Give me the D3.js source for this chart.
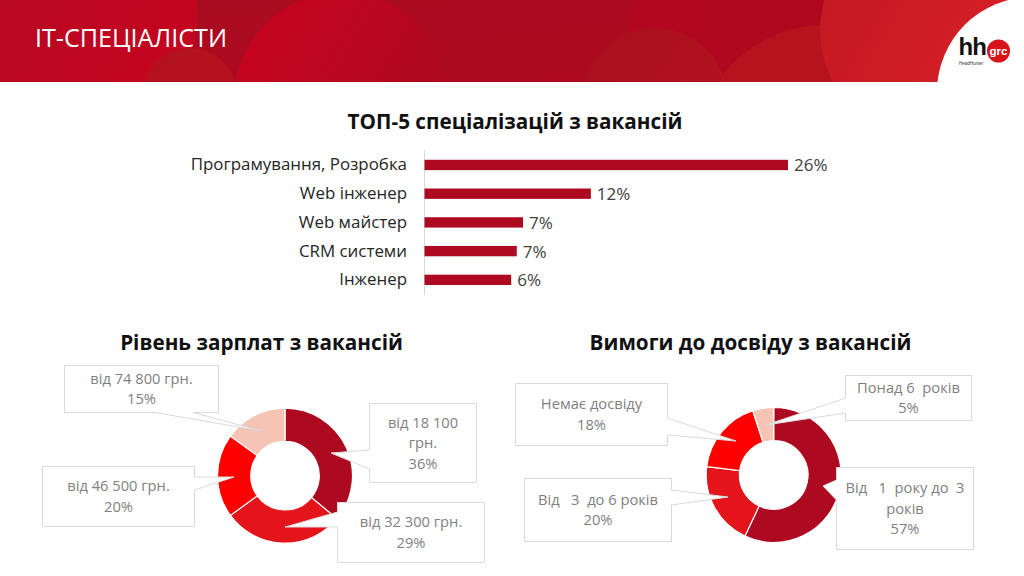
<!DOCTYPE html>
<html>
<head>
<meta charset="utf-8">
<script src="https://cdn.jsdelivr.net/npm/d3@7"></script>
<style>
html, body { margin: 0; padding: 0; background: #fff; }
svg { display: block; }
text { font-family: "Open Sans", "Noto Sans", sans-serif; white-space: pre; }
text.logo { font-family: "Liberation Sans", sans-serif; }
</style>
</head>
<body>
<svg id="chart" width="1024" height="576"></svg>
<script>
// chart values
var specCategories = ['Програмування, Розробка', 'Web інженер', 'Web майстер', 'CRM системи', 'Інженер'];
var specValues = [26, 11.9, 7.05, 6.6, 6.2];

var salaryLabels = [['від 18 100', 'грн.'], ['від 32 300 грн.'], ['від 46 500 грн.'], ['від 74 800 грн.']];
var salaryValues = [36, 29, 20, 15];

var expLabels = [['Від   1  року до  3', 'років'], ['Від   3  до 6 років'], ['Немає досвіду'], ['Понад 6  років']];
var expValues = [57, 20, 18, 5];

var sliceColors = ['#ad0a22', '#e3141a', '#ff0000', '#f5c4b5'];

var svg = d3.select('#chart');
var defs = svg.append('defs');

function addGradient(id, from, to) {
    var g = defs.append('linearGradient').attr('id', id)
        .attr('x1', 0).attr('y1', 0).attr('x2', 1).attr('y2', 0.6);
    g.append('stop').attr('offset', '0%').attr('stop-color', from);
    g.append('stop').attr('offset', '100%').attr('stop-color', to);
}

// header banner, built from overlapping circles
addGradient('bandBase', '#a80c20', '#ae0a20');
addGradient('bandLeft', '#b00a24', '#c5051f');
addGradient('bandMid', '#cb0320', '#aa0a1e');
addGradient('bandRight', '#b6061f', '#aa0a1e');
addGradient('bandSoft', '#a80f1e', '#b4131f');
addGradient('bandHot', '#bf1823', '#da2026');

defs.append('clipPath').attr('id', 'bandClip')
    .append('rect').attr('width', 1024).attr('height', 82);

var band = svg.append('g').attr('clip-path', 'url(#bandClip)');
band.append('rect').attr('width', 1024).attr('height', 82).attr('fill', 'url(#bandBase)');

var bandCircles = [
    { cx: 60, cy: 15, r: 137, fill: 'url(#bandLeft)' },
    { cx: 190, cy: 95, r: 47, fill: '#b5121f' },
    { cx: 342, cy: 100, r: 108, fill: 'url(#bandMid)' },
    { cx: 790, cy: 60, r: 165, fill: 'url(#bandRight)' },
    { cx: 655, cy: 100, r: 72, fill: 'url(#bandSoft)' },
    { cx: 825, cy: 155, r: 130, fill: '#b5141f' },
    { cx: 928, cy: 30, r: 108, fill: 'url(#bandHot)' },
    { cx: 1032, cy: 92, r: 95, fill: '#ffffff' }
];
band.selectAll('circle').data(bandCircles).enter().append('circle')
    .attr('cx', function (d) { return d.cx; })
    .attr('cy', function (d) { return d.cy; })
    .attr('r', function (d) { return d.r; })
    .attr('fill', function (d) { return d.fill; });

svg.append('text').attr('x', 35).attr('y', 46.5)
    .attr('font-size', 25).attr('font-weight', 400).attr('fill', '#fff')
    .attr('textLength', 192).attr('lengthAdjust', 'spacingAndGlyphs')
    .text('IT-СПЕЦІАЛІСТИ');

// logo
var logo = svg.append('g');
logo.append('circle').attr('cx', 998.5).attr('cy', 51).attr('r', 11.5).attr('fill', '#d7141c');
logo.append('text').attr('class', 'logo').attr('x', 958.5).attr('y', 55)
    .attr('font-size', 24).attr('font-weight', 700).attr('letter-spacing', -1).attr('fill', '#111')
    .text('hh');
logo.append('text').attr('class', 'logo').attr('x', 998.5).attr('y', 55).attr('text-anchor', 'middle')
    .attr('font-size', 11.5).attr('font-weight', 700).attr('fill', '#fff').text('grc');
logo.append('text').attr('class', 'logo').attr('x', 959).attr('y', 64.5)
    .attr('font-size', 4.5).attr('fill', '#333').text('HeadHunter');

function sectionTitle(x, y, label) {
    svg.append('text').attr('x', x).attr('y', y).attr('text-anchor', 'middle')
        .attr('font-size', 20.7).attr('font-weight', 700).attr('fill', '#111').text(label);
}
sectionTitle(515, 128.5, 'ТОП-5 спеціалізацій з вакансій');
sectionTitle(261.5, 350, 'Рівень зарплат з вакансій');
sectionTitle(750.5, 350, 'Вимоги до досвіду з вакансій');

// bar chart
var x = d3.scaleLinear().domain([0, 26]).range([424.5, 788]);
var y = d3.scaleBand().domain(specCategories).range([150.6, 294.2]).paddingInner(0.64).paddingOuter(0.32);

svg.append('line').attr('x1', 424.5).attr('x2', 424.5).attr('y1', 150).attr('y2', 295)
    .attr('stroke', '#d9d9d9');

svg.selectAll('rect.bar').data(specCategories).enter().append('rect')
    .attr('class', 'bar')
    .attr('x', x(0))
    .attr('y', function (d) { return y(d); })
    .attr('width', function (d, i) { return x(specValues[i]) - x(0); })
    .attr('height', y.bandwidth())
    .attr('fill', '#ad0a22');

svg.selectAll('text.cat').data(specCategories).enter().append('text')
    .attr('class', 'cat')
    .attr('x', 407)
    .attr('y', function (d) { return y(d) + y.bandwidth() / 2 + 5.5; })
    .attr('text-anchor', 'end')
    .attr('font-size', 16.9).attr('fill', '#262626')
    .text(function (d) { return d; });

svg.selectAll('text.val').data(specValues).enter().append('text')
    .attr('class', 'val')
    .attr('x', function (d) { return x(d) + 6; })
    .attr('y', function (d, i) { return y(specCategories[i]) + y.bandwidth() / 2 + 6.5; })
    .attr('font-size', 17).attr('fill', '#404040')
    .text(function (d) { return Math.round(d) + '%'; });

// doughnuts
function drawDonut(cx, cy, values) {
    var pie = d3.pie().sort(null);
    var arc = d3.arc().innerRadius(34.3).outerRadius(67.5);
    svg.append('g').attr('transform', 'translate(' + cx + ',' + cy + ')')
        .selectAll('path').data(pie(values)).enter().append('path')
        .attr('d', arc)
        .attr('fill', function (d, i) { return sliceColors[i]; })
        .attr('stroke', '#fff').attr('stroke-width', 1.2);
}

// callout box with a pointer notched into one side
function calloutPath(c) {
    var l = c.x, t = c.y, r = c.x + c.w, b = c.y + c.h;
    var pts = [];
    if (c.side === 'left') {
        pts = [[l, t], [r, t], [r, b], [l, b], [l, c.b], c.tip, [l, c.a]];
    } else if (c.side === 'right') {
        pts = [[l, t], [r, t], [r, c.a], c.tip, [r, c.b], [r, b], [l, b]];
    } else {
        pts = [[l, t], [r, t], [r, b], [c.b, b], c.tip, [c.a, b], [l, b]];
    }
    return d3.line()(pts) + 'Z';
}

function drawCallouts(layout, labels, values) {
    var g = svg.append('g').selectAll('g').data(layout).enter().append('g');
    g.append('path')
        .attr('d', calloutPath)
        .attr('fill', '#fff').attr('stroke', '#d9d9d9').attr('stroke-width', 1);
    g.each(function (c) {
        var lines = labels[c.index].concat([values[c.index] + '%']);
        var node = d3.select(this);
        var startY = c.y + c.h / 2 - (lines.length - 1) * 10.25 + 5;
        lines.forEach(function (line, i) {
            node.append('text')
                .attr('x', c.x + c.w / 2).attr('y', startY + i * 20.5)
                .attr('text-anchor', 'middle')
                .attr('font-size', 14.7).attr('fill', '#7f7f7f')
                .text(line);
        });
    });
}

drawDonut(285, 475.7, salaryValues);
drawDonut(773.7, 475, expValues);

drawCallouts([
    { index: 0, x: 369.5, y: 403.5, w: 107, h: 79, side: 'left', a: 450, b: 469, tip: [331, 453] },
    { index: 1, x: 337.5, y: 502.5, w: 147, h: 60, side: 'left', a: 512, b: 527, tip: [285, 527] },
    { index: 2, x: 42.5, y: 466.5, w: 152, h: 60, side: 'right', a: 477, b: 490, tip: [234, 477] },
    { index: 3, x: 64.5, y: 365.5, w: 154, h: 47, side: 'bottom', a: 155, b: 193, tip: [262, 431] }
], salaryLabels, salaryValues);

drawCallouts([
    { index: 0, x: 836.5, y: 467.5, w: 137, h: 82, side: 'left', a: 480, b: 500, tip: [823, 486] },
    { index: 1, x: 524.5, y: 478.5, w: 147, h: 63, side: 'right', a: 490, b: 505, tip: [728, 497] },
    { index: 2, x: 515.5, y: 383.5, w: 152, h: 62, side: 'right', a: 418, b: 435, tip: [736, 441] },
    { index: 3, x: 845.5, y: 375.5, w: 126, h: 45, side: 'left', a: 398, b: 413, tip: [766, 425] }
], expLabels, expValues);
</script>
</body>
</html>
